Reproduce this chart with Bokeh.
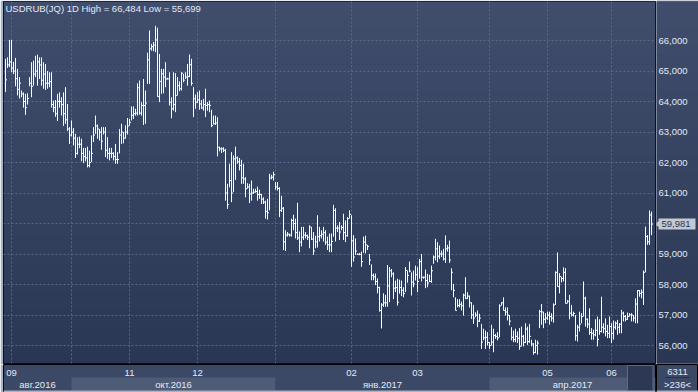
import math
from bokeh.plotting import figure
from bokeh.layouts import column, row
from bokeh.models import Range1d, FixedTicker, Label, BoxAnnotation, ColumnDataSource
from bokeh.transform import dodge
from bokeh.core.properties import value
from bokeh.embed import file_html
from bokeh.resources import INLINE

title_text = "USDRUB(JQ) 1D High = 66,484 Low = 55,699"

high = [65.40,65.45,66.02,66.02,65.30,65.43,65.07,64.80,64.36, 64.30,64.25,64.27,64.80,65.29,65.34,65.50,65.54,65.45,65.45,
        65.29,65.23,65.00,64.96,64.96,64.03,64.05,64.25,64.30,64.14, 64.30,64.47,63.92,63.16,63.38,63.13,62.94,62.83,62.85,62.78,
        62.48,62.48,62.52,62.39,62.89,63.16,63.54,63.25,63.10, 63.16,63.16,63.16,62.83,62.48,62.48,62.34,62.61,62.34,
        63.10,63.27,63.00,63.22,63.46,
        63.43,63.84,63.84,63.76,64.60,64.69,63.98,64.74,64.36, 65.60,66.33,65.89,65.95,66.484,66.42,65.56,65.07,65.07,65.29,
        64.78,64.96,64.14,64.96,64.93,64.80,64.66,64.96,64.91, 64.96,65.23,65.54,65.40,64.47,64.23,64.31,64.36,64.05,64.09,
        64.42,63.98,64.03,63.73,63.54,63.54,63.49,62.52,62.50,62.50, 62.45,61.30,61.96,62.34,62.23,62.52,62.20,62.15,62.09,
        61.96,61.52,61.32,61.30,61.41,61.14,61.14,61.21,
        61.11,60.97,60.86,60.75,60.81,61.63,61.60,61.70,61.36,61.36, 61.19,60.91,60.54,59.78,59.72,59.67,60.16,60.29,60.16,60.68,
        59.74,59.89,59.89,59.72,59.64,59.94,59.89,59.72,59.60,60.27, 59.89,59.78,59.89,59.78,59.57,59.67,59.67,60.61,60.50,59.94,
        60.05,59.94,60.32,60.10,60.21,60.43,60.27,59.62,59.51,59.02, 59.03,59.08,59.57,59.60,59.30,59.00,58.66,58.36,58.36,58.20,
        57.93,57.39,57.71,57.66,58.64,
        58.57,58.51,58.40,58.13,58.19,58.16,58.13,57.91,58.57, 58.46,58.75,58.40,58.46,58.62,58.57,58.84,59.00,58.26,
        58.49,58.35,58.32,58.62,58.95,59.50,59.39,59.28,59.11, 59.17,59.61,59.30,59.44,58.53,58.02,57.58,57.52,57.52,57.44,
        57.70,58.24,57.75,57.64,57.42,57.33,57.09,57.15,57.04, 56.71,56.55,56.49,56.44,56.11,56.68,56.55,56.38,56.44,57.35,
        57.42,57.58,57.25,57.25,57.00,56.60,56.49,56.55,
        56.46,56.57,56.62,56.35,56.73,56.62,56.71,56.19,56.08,56.19, 56.16,57.17,57.36,57.11,57.06,57.11,57.11,57.06,57.38,58.43,
        59.05,58.37,58.26,58.56,58.54,57.49,57.66,57.33,57.11,57.00, 56.68,57.11,57.06,58.10,57.60,56.89,57.22,56.57,56.52,56.86,
        56.95,56.86,57.60,56.73,56.89,56.68,56.95,56.73,56.82,56.79, 56.84,56.73,57.17,57.11,57.00,57.08,57.06,57.06,57.00,57.55,
        57.82,57.82,57.84,58.46,59.90,59.62,60.43,60.39]

low = [64.31,65.10,65.13,64.96,64.90,64.50,64.20,64.10,64.14, 63.80,63.56,63.90,64.50,64.14,64.52,64.80,64.52,64.74,64.52,
       64.42,64.38,64.42,64.47,63.80,63.65,63.50,63.36,63.80,63.54, 63.20,63.27,63.03,62.61,62.85,62.56,62.15,62.26,62.47,62.04,
       61.98,62.04,61.84,61.84,62.02,62.67,62.94,62.78,62.72, 62.42,62.92,62.18,62.12,62.07,62.15,62.07,61.96,61.96,
       62.30,62.61,62.63,62.78,62.92,
       63.21,63.38,63.43,63.54,63.54,63.57,63.54,63.23,63.27, 64.58,64.58,65.67,65.65,65.62,64.16,63.98,64.25,64.27,64.47,
       64.72,63.87,63.45,63.70,63.65,64.20,64.34,64.36,64.63, 64.74,64.52,64.80,64.52,63.49,63.76,63.95,63.73,63.76,63.70,
       63.49,63.70,63.65,63.16,63.25,63.23,62.20,62.37,62.31,62.34, 60.75,60.48,61.19,60.70,61.03,61.43,61.96,61.74,61.30,
       61.30,60.86,61.14,60.67,60.75,60.97,61.01,60.75,
       60.81,60.64,60.64,60.16,60.13,60.43,61.45,61.41,61.11,61.08, 60.21,60.38,59.13,59.10,59.57,59.57,59.57,59.78,59.51,59.46,
       59.06,59.25,59.46,59.51,59.46,59.19,59.46,58.97,59.19,59.21, 59.41,59.51,59.41,59.30,59.13,59.06,59.06,59.57,59.41,59.72,
       59.46,59.78,59.46,59.39,59.57,60.16,58.58,58.75,58.97,58.97, 58.96,58.58,59.04,59.02,59.13,58.64,58.14,58.14,57.98,57.71,
       57.11,56.56,57.27,57.27,57.27,
       57.42,58.24,57.52,57.75,57.31,57.70,57.62,57.58,57.75, 58.06,58.40,57.64,57.91,58.13,57.75,58.19,58.10,58.19,
       57.88,57.91,58.08,58.06,58.68,58.79,58.73,58.84,58.90, 58.79,58.71,59.08,58.71,57.81,57.58,57.15,57.25,57.25,57.15,
       56.98,57.52,57.52,57.25,56.87,56.71,56.93,56.60,56.77, 55.89,56.17,55.89,56.00,55.89,56.00,55.78,56.22,56.17,56.27,
       57.31,57.15,56.98,56.82,56.66,56.17,56.11,56.11,
       56.08,55.86,55.97,55.97,56.08,56.02,56.08,55.97,55.699,55.75, 55.70,56.57,56.68,56.57,56.73,56.84,56.68,56.79,56.75,57.33,
       57.93,57.71,58.07,58.10,57.38,57.38,56.86,56.95,56.95,56.16, 56.13,56.46,56.73,56.95,56.62,56.57,56.35,56.19,56.19,56.30,
       55.97,56.35,56.43,56.40,56.30,56.24,56.24,56.08,56.19,56.52, 56.35,56.40,56.40,56.79,56.79,56.84,56.95,56.79,56.79,56.73,
       56.73,57.60,57.55,57.33,58.40,59.30,59.30,59.62]

close = [64.71,65.20,65.30,65.10,65.00,64.75,64.40,64.60,64.25, 64.00,63.80,64.10,64.60,64.50,64.90,65.00,65.30,65.20,64.70,
         64.90,64.60,64.60,64.65,63.90,63.80,63.60,64.00,64.00,63.90, 63.60,63.40,63.10,62.90,63.00,62.80,62.30,62.60,62.60,62.30,
         62.20,62.15,61.90,62.00,62.30,62.90,63.20,63.10,63.00, 62.70,63.00,62.40,62.30,62.30,62.30,62.20,62.10,62.10,
         62.90,63.00,62.80,63.00,63.20,
         63.32,63.55,63.60,63.62,64.45,63.62,63.87,63.87,63.95, 65.37,65.73,65.80,65.85,66.02,64.16,64.66,64.91,64.80,64.74,
         64.74,63.98,63.76,63.90,64.20,64.52,64.42,64.93,64.70, 64.80,64.82,65.21,64.60,64.09,63.98,64.05,63.92,63.79,63.90,
         63.87,63.90,63.87,63.21,63.27,63.30,62.50,62.45,62.45,62.40, 61.00,60.62,61.41,61.00,62.12,62.15,62.02,61.90,61.50,
         61.46,61.14,61.20,60.97,61.00,61.03,61.05,60.95,
         60.95,60.80,60.70,60.40,60.35,61.49,61.52,61.60,61.20,61.15, 60.43,60.50,59.40,59.62,59.65,59.62,60.10,60.00,59.70,59.53,
         59.39,59.55,59.62,59.60,59.55,59.89,59.49,59.10,59.40,59.57, 59.60,59.65,59.70,59.39,59.30,59.30,59.41,60.43,59.85,59.85,
         59.72,59.87,59.70,59.60,60.16,60.30,59.43,58.90,59.10,58.99, 58.99,58.75,59.39,59.30,59.25,58.80,58.30,58.25,58.10,57.90,
         57.15,57.33,57.40,57.40,57.95,
         58.45,58.35,57.88,57.90,57.42,57.90,57.81,57.70,58.46, 58.30,58.44,58.08,58.02,58.32,58.10,58.75,58.24,58.24,
         58.13,58.05,58.10,58.45,58.90,59.17,58.93,59.00,59.00, 58.84,59.17,59.20,58.80,58.40,57.81,57.15,57.31,57.35,57.30,
         57.65,57.55,57.62,57.40,57.00,56.90,57.00,56.80,56.90, 56.11,56.25,56.27,56.10,56.00,56.11,56.33,56.30,56.25,57.30,
         57.40,57.15,57.10,57.00,56.80,56.27,56.20,56.30,
         56.24,55.97,56.30,56.10,56.54,56.13,56.30,56.05,55.77,56.00, 56.08,57.11,57.10,56.86,56.90,57.00,56.95,56.90,57.33,58.40,
         57.93,58.26,58.20,58.40,57.38,57.45,57.06,57.00,57.05,56.32, 56.60,56.70,56.95,57.55,56.86,56.70,56.43,56.40,56.35,56.50,
         56.20,56.46,56.60,56.55,56.46,56.40,56.62,56.40,56.60,56.73, 56.60,56.70,57.06,56.95,56.86,56.95,57.00,57.00,56.90,57.36,
         57.80,57.71,57.75,58.40,59.57,59.40,60.28,59.981]

price_ticks = [56, 57, 58, 59, 60, 61, 62, 63, 64, 65, 66]
price_labels = ["56,000", "57,000", "58,000", "59,000", "60,000", "61,000",
                "62,000", "63,000", "64,000", "65,000", "66,000"]
month_idx = [3, 33, 62, 96, 135, 173, 206, 242, 271, 303]
month_labels = ["09", "10", "11", "12", "01", "02", "03", "04", "05", "06"]
quarter_idx = [33, 135, 242]
quarter_labels = ["авг.2016", "окт.2016", "янв.2017", "апр.2017"]
counter_labels = ["6311", ">236<"]

FONT = "Liberation Sans"
FS = "9.5px"
BAR = "#fffaf6"
GRID = "#5a6682"
PANEL = "#3c4966"
ALT = "#4e5b77"
TXT = "#e2e9f5"
EDGE = "#a9b3c4"

N = len(close)
idx = list(range(N))
x_lo = -1.0
x_hi = x_lo + 326
y_lo, y_hi = 55.41, 67.28


def gradient(fig):
    top_rgb = (0x40, 0x4d, 0x6c)
    bot_rgb = (0x2a, 0x37, 0x54)
    nb = 40
    for k in range(nb):
        t = (k + 0.5) / nb
        c = tuple(int(round(b + (a - b) * t)) for a, b in zip(top_rgb, bot_rgb))
        fig.add_layout(BoxAnnotation(bottom=y_lo + (y_hi - y_lo) * k / nb,
                                     top=y_lo + (y_hi - y_lo) * (k + 1) / nb + 0.02,
                                     fill_color="#%02x%02x%02x" % c, fill_alpha=1,
                                     line_alpha=0, level="image"))


common = dict(output_backend="svg", toolbar_location=None, x_axis_location=None,
              y_axis_location=None)

# main price frame
p = figure(width=656, height=364, x_range=Range1d(x_lo, x_hi), y_range=Range1d(y_lo, y_hi),
           min_border_left=3, min_border_right=1, min_border_top=1, min_border_bottom=1,
           background_fill_color="#34415f", border_fill_color=EDGE,
           outline_line_color="black", outline_line_width=1, **common)
gradient(p)
p.xgrid.ticker = FixedTicker(ticks=month_idx)
p.ygrid.ticker = FixedTicker(ticks=price_ticks)
for g in (p.xgrid, p.ygrid):
    g.grid_line_color = GRID
    g.grid_line_dash = "2 2"
    g.grid_line_width = 1

src = ColumnDataSource(dict(x=idx, high=high, low=low, close=close))
p.segment(x0="x", y0="low", x1="x", y1="high", source=src, line_color=BAR, line_width=1)
p.segment(x0="x", y0="close", x1=dodge("x", 0.75), y1="close", source=src,
          line_color=BAR, line_width=1)

p.add_layout(Label(x=x_lo, y=y_hi, x_offset=2, y_offset=-1, text=title_text,
                   text_baseline="top", text_font=FONT, text_font_size=FS,
                   text_color=TXT))

# right price scale panel (pixel-unit x range)
pr = figure(width=42, height=364, x_range=Range1d(0, 42), y_range=p.y_range,
            min_border_left=0, min_border_right=0, min_border_top=1, min_border_bottom=1,
            background_fill_color="#34415f", border_fill_color="#34415f",
            outline_line_color=None, **common)
gradient(pr)
pr.grid.visible = False
pr.text(x=2, y=price_ticks, text=price_labels, text_align="left", text_baseline="middle",
        text_font=value(FONT), text_font_size=value(FS), text_color=TXT)
last_txt = ("%.3f" % close[-1]).replace(".", ",")
pr.rect(x=20.5, y=close[-1], width=37, height=11, width_units="screen",
        height_units="screen", fill_color="#c4c8d0", line_color=None)
pr.scatter(x=1.5, y=close[-1], marker="triangle", size=7, angle=math.pi / 2,
           fill_color="#c4c8d0", line_color=None)
pr.text(x=5, y=close[-1], text=[last_txt], text_align="left", text_baseline="middle",
        text_font=value(FONT), text_font_size=value(FS), text_color="#26365a")

# bottom date panel
pb = figure(width=656, height=28, x_range=p.x_range, y_range=Range1d(0, 28),
            min_border_left=3, min_border_right=1, min_border_top=0, min_border_bottom=0,
            background_fill_color=PANEL, border_fill_color=EDGE,
            outline_line_color="black", **common)
pb.grid.visible = False

q_left = [x_lo] + quarter_idx
q_right = quarter_idx + [x_hi]
q_col = [PANEL if i % 2 == 0 else ALT for i in range(len(q_left))]
q_mid = [(a + b) / 2 for a, b in zip(q_left, q_right)]
pb.quad(left=q_left, right=q_right, bottom=2, top=15, fill_color=q_col, line_color=None)
pb.quad(left=[x_lo], right=[x_hi], bottom=0, top=2, fill_color=EDGE, line_color=None)
pb.quad(left=[311], right=[323.75], bottom=2, top=27, fill_color="#2d3954",
        line_color="#5d6a87", line_width=1)

show_idx = [m for m in month_idx if m not in quarter_idx]
show_lab = [l for m, l in zip(month_idx, month_labels) if m not in quarter_idx]
pb.text(x=show_idx, y=20, text=show_lab, text_align="center", text_baseline="middle",
        text_font=value(FONT), text_font_size=value(FS), text_color=TXT)
pb.text(x=q_mid, y=8.5, text=quarter_labels, text_align="center", text_baseline="middle",
        text_font=value(FONT), text_font_size=value(FS), text_color=TXT)

# bottom-right counter box
pbr = figure(width=42, height=28, x_range=Range1d(0, 42), y_range=Range1d(0, 28),
             min_border_left=0, min_border_right=0, min_border_top=0, min_border_bottom=0,
             background_fill_color=PANEL, border_fill_color=PANEL,
             outline_line_color="black", **common)
pbr.grid.visible = False
pbr.quad(left=[0], right=[42], bottom=0, top=2, fill_color=EDGE, line_color=None)
pbr.segment(x0=[9], y0=[15], x1=[33], y1=[15], line_color="#27324a", line_width=1)
pbr.text(x=21, y=[21, 8.5], text=counter_labels, text_align="center", text_baseline="middle",
         text_font=value(FONT), text_font_size=value(FS), text_color=TXT)

layout = row(column(p, pb, spacing=0), column(pr, pbr, spacing=0), spacing=0)
open("out.html", "w").write(file_html(layout, INLINE))
